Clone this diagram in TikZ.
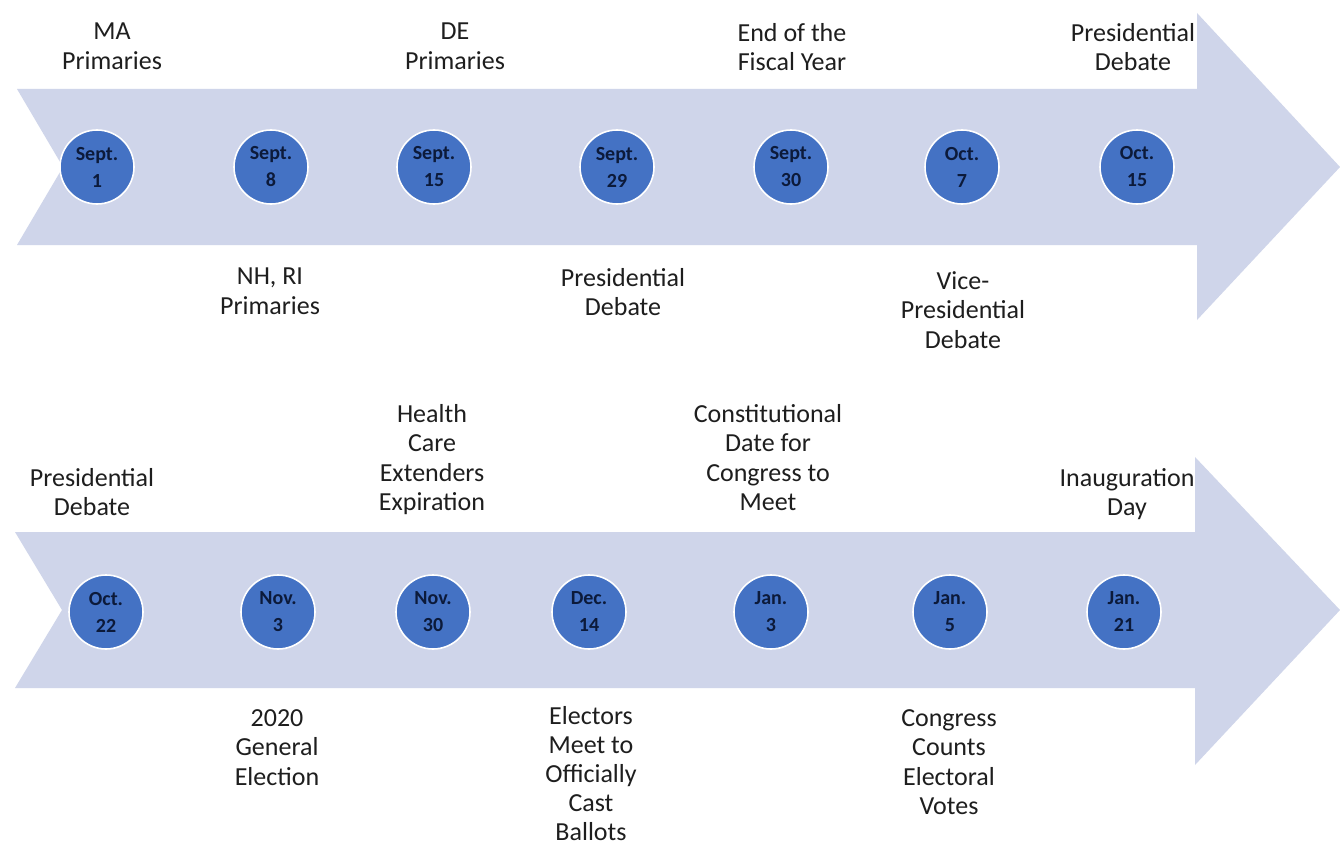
\documentclass[tikz,border=0pt]{standalone}
\usepackage{fontspec}
\setmainfont{Carlito}
\usetikzlibrary{positioning}
\definecolor{bandfill}{RGB}{207,213,234}
\definecolor{dotfill}{RGB}{68,114,196}
\definecolor{dottext}{RGB}{12,26,58}
\definecolor{lbltext}{RGB}{30,30,30}

\begin{document}
\begin{tikzpicture}[
                  x=1pt,y=-1pt,
                  band/.style={fill=bandfill,draw=none},
                  evt/.style={circle,fill=dotfill,draw=white,line width=1.6pt,minimum size=74pt,inner sep=0pt,
                              align=center,text=dottext,font=\fontsize{20}{27}\selectfont\bfseries},
                  lbl/.style={anchor=north,align=center,inner sep=0pt,text=lbltext,font=\fontsize{26}{29.5}\selectfont}
                ]
                \useasboundingbox[fill=white] (0,0) rectangle (1340,848);
                % labels, first row
                \node[lbl] (maprim) at (112,23) {MA\\Primaries};
                \node[lbl] (deprim) at (455,23) {DE\\Primaries};
                \node[lbl] (fiscal) at (792,23) {End of the\\Fiscal Year};
                \node[lbl] (pdebb) at (1133,23) {Presidential\\Debate};
                \node[lbl] (nhprim) at (270,268) {NH, RI\\Primaries};
                \node[lbl] (pdeba) at (623,268) {Presidential\\Debate};
                \node[lbl] (vpdeb) at (963,271) {Vice-\\Presidential\\Debate};
                % labels, second row
                \node[lbl] (pdebc) at (92,468) {Presidential\\Debate};
                \node[lbl] (health) at (432,404) {Health\\Care\\Extenders\\Expiration};
                \node[lbl] (congr) at (768,404) {Constitutional\\Date for\\Congress to\\Meet};
                \node[lbl] (inaug) at (1127,468) {Inauguration\\Day};
                \node[lbl] (genel) at (277,709) {2020\\General\\Election};
                \node[lbl,font=\fontsize{26}{29}\selectfont] (electors) at (591,706) {Electors\\Meet to\\Officially\\Cast\\Ballots};
                \node[lbl] (counts) at (949,709) {Congress\\Counts\\Electoral\\Votes};
                % arrows
                \fill[band] (17,89) -- (1197,89) -- (1197,13) -- (1340,167) -- (1197,320) -- (1197,245) -- (17,245) -- (63,167) -- cycle;
                \fill[band] (15,532) -- (1195,532) -- (1195,457) -- (1340,610) -- (1195,765) -- (1195,688) -- (15,688) -- (62,610) -- cycle;
                % dates
                \node[evt] (s1) at (97,167) {Sept.\\1};
                \node[evt] (s8) at (271,167) {Sept.\\8};
                \node[evt] (s15) at (434,167) {Sept.\\15};
                \node[evt] (s29) at (617,167) {Sept.\\29};
                \node[evt] (s30) at (791,167) {Sept.\\30};
                \node[evt] (o7) at (962,167) {Oct.\\7};
                \node[evt] (o15) at (1137,167) {Oct.\\15};
                \node[evt] (o22) at (106,612) {Oct.\\22};
                \node[evt] (n3) at (278,612) {Nov.\\3};
                \node[evt] (n30) at (433,612) {Nov.\\30};
                \node[evt] (d14) at (589,612) {Dec.\\14};
                \node[evt] (j3) at (771,612) {Jan.\\3};
                \node[evt] (j5) at (950,612) {Jan.\\5};
                \node[evt] (j21) at (1124,612) {Jan.\\21};
\end{tikzpicture}
\end{document}
